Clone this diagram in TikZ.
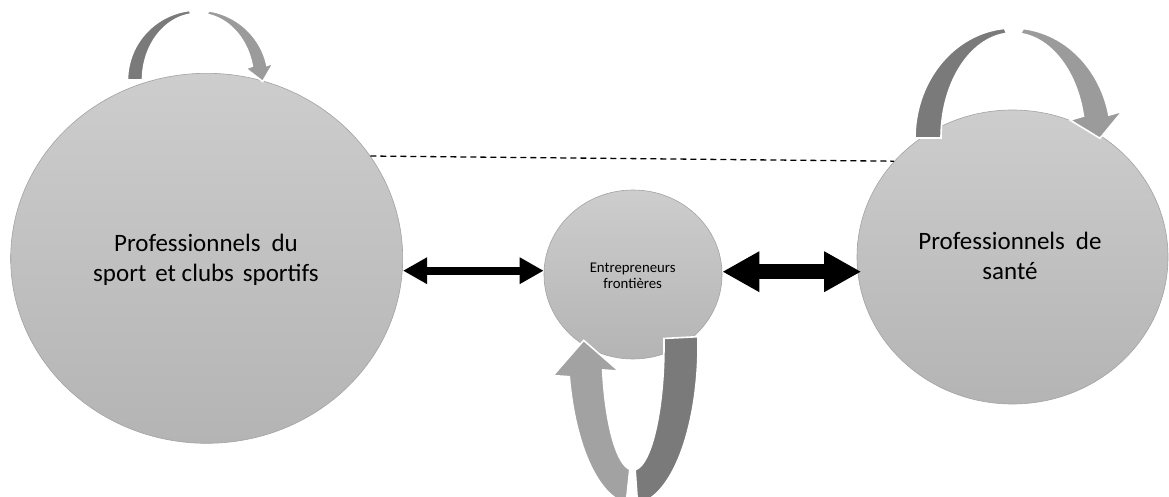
\documentclass[tikz,border=0pt]{standalone}
\usepackage{fontspec}
\setmainfont{Carlito}
\usetikzlibrary{shapes.geometric,arrows.meta}
\definecolor{arcdark}{HTML}{7A7A7A}
\definecolor{arclight}{HTML}{9B9B9B}
\definecolor{arclighter}{HTML}{A2A2A2}
\definecolor{circtop}{HTML}{CDCDCD}
\definecolor{circbot}{HTML}{B4B4B4}
\definecolor{circline}{HTML}{A3A3A3}
\colorlet{arccol}{arcdark}
\def\acx{0}\def\acy{0}

% band between an outer ellipse (#1,#2) and an inner ellipse (#3,#4) centred at (\acx,\acy),
% from parameter angle #5 to #6 (image coordinates, y down)
\newcommand\bandpiece[6]{%
  \fill[arccol, draw=white, line width=1.6pt, line join=miter]
   plot[domain=#5:#6, samples=60, variable=\t] ({\acx+#1*cos(\t)},{\acy+#2*sin(\t)})
   -- plot[domain=#6:#5, samples=60, variable=\t] ({\acx+#3*cos(\t)},{\acy+#4*sin(\t)})
   -- cycle;}
% same, ending with an arrow head (half width #7, length #8)
\newcommand\headpiece[8]{%
  \pgfmathsetmacro\arx{(#1+#3)/2}%
  \pgfmathsetmacro\ary{(#2+#4)/2}%
  \pgfmathsetmacro\ahx{\acx+\arx*cos(#6)}%
  \pgfmathsetmacro\ahy{\acy+\ary*sin(#6)}%
  \pgfmathsetmacro\atx{-\arx*sin(#6)}%
  \pgfmathsetmacro\aty{\ary*cos(#6)}%
  \pgfmathsetmacro\atl{veclen(\atx,\aty)}%
  \pgfmathsetmacro\aux{\atx/\atl}%
  \pgfmathsetmacro\auy{\aty/\atl}%
  \fill[arccol, draw=white, line width=1.6pt, line join=miter]
   plot[domain=#5:#6, samples=60, variable=\t] ({\acx+#1*cos(\t)},{\acy+#2*sin(\t)})
   -- ({\ahx+#7*\auy},{\ahy-#7*\aux})
   -- ({\ahx+#8*\aux},{\ahy+#8*\auy})
   -- ({\ahx-#7*\auy},{\ahy+#7*\aux})
   -- plot[domain=#6:#5, samples=60, variable=\t] ({\acx+#3*cos(\t)},{\acy+#4*sin(\t)})
   -- cycle;}

\tikzset{
  bigcirc/.style={ellipse, inner sep=0pt, draw=circline, line width=0.6pt,
                  top color=circtop, bottom color=circbot},
  bigtext/.style={font=\fontsize{25}{30.8}\selectfont, inner sep=0pt, anchor=base},
  smalltext/.style={font=\fontsize{14.8}{16}\selectfont, inner sep=0pt, anchor=base},
  dashline/.style={dash pattern=on 6pt off 4pt, line width=1.3pt, black},
  dblA/.style={line width=8pt, black,
    {Triangle[length=24pt,width=25pt]}-{Triangle[length=24pt,width=25pt]}},
  dblB/.style={line width=15pt, black,
    {Triangle[length=37pt,width=38pt]}-{Triangle[length=37pt,width=38pt]}}
}

\begin{document}
\begin{tikzpicture}[x=1pt,y=-1pt]
\useasboundingbox (0,0) rectangle (1169,497);
\fill[white] (0,0) rectangle (1169,497);

% circles
\node[bigcirc, minimum width=392pt, minimum height=370pt] (L) at (206.7,258.3) {};
\node[bigcirc, minimum width=178pt, minimum height=169pt] (M) at (633,274.5) {};
\node[bigcirc, minimum width=311pt, minimum height=294pt] (R) at (1012.5,257) {};

% texts
\node[bigtext] (Lt) at (206,251) {\begin{tabular}[t]{@{}c@{}}Professionnels\hspace{11pt}du\\sport\hspace{9pt}et clubs\hspace{9pt}sportifs\end{tabular}};
\node[bigtext] (Rt) at (1010,249) {\begin{tabular}[t]{@{}c@{}}Professionnels\hspace{11pt}de\\santé\end{tabular}};
\node[smalltext] (Mt) at (632.7,272) {\begin{tabular}[t]{@{}c@{}}Entrepreneurs\\frontières\end{tabular}};

% dashed link
\draw[dashline] (L.32.7) -- (R.141.4);

% double arrows
\coordinate (ya) at (0,270.7);
\coordinate (yb) at (0,271.7);
\draw[dblA] (L.east |- ya) -- (M.west |- ya);
\draw[dblB, shorten >=-4.5pt] (M.east |- yb) -- (R.west |- yb);

% curved self arrows: top left
\def\acx{198}\def\acy{80}
\colorlet{arccol}{arcdark}
\bandpiece{70.5}{70}{55.5}{66.5}{180}{263}
\colorlet{arccol}{arclight}
\headpiece{70.5}{70}{55.5}{66.5}{279}{348}{14}{16}

% top right
\def\acx{1013}\def\acy{138}
\colorlet{arccol}{arcdark}
\bandpiece{98}{110}{72}{105}{180}{265}
\colorlet{arccol}{arclight}
\headpiece{98}{110}{72}{105}{276}{348}{26.5}{23}

% bottom
\def\acx{633}\def\acy{345}
\colorlet{arccol}{arcdark}
\bandpiece{65}{159}{31}{125}{-3}{86}
\colorlet{arccol}{arclighter}
\headpiece{65}{159}{31}{125}{96}{168.5}{33}{33}
\end{tikzpicture}
\end{document}
